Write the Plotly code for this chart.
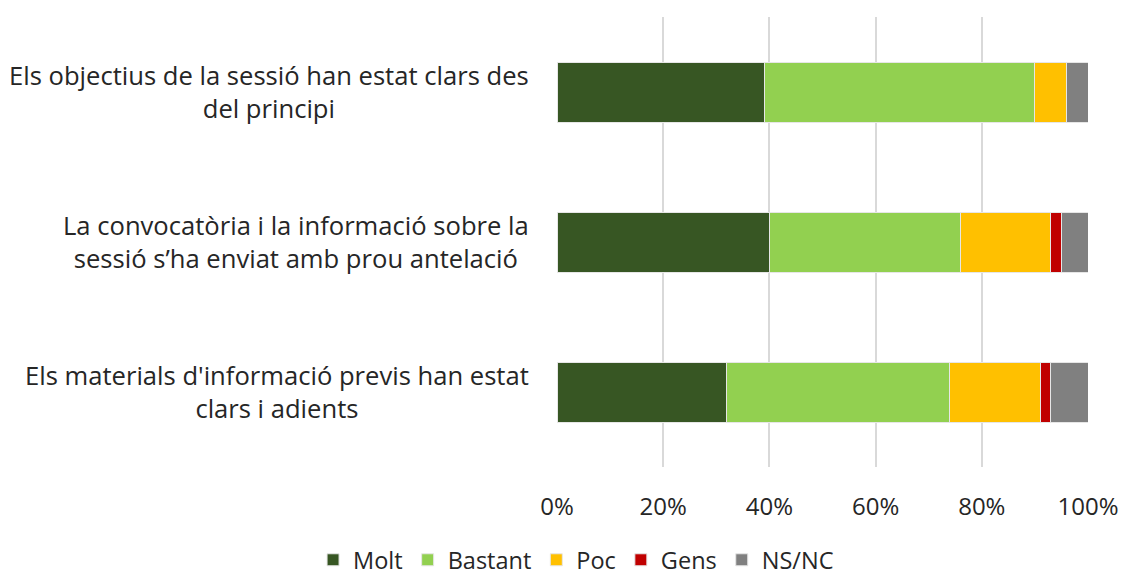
import plotly.graph_objects as go

categories = [
    "Els objectius de la sessió han estat clars des<br>del principi",
    "La convocatòria i la informació sobre la<br>sessió s’ha enviat amb prou antelació",
    "Els materials d'informació previs han estat<br>clars i adients",
]
series_names = ["Molt", "Bastant", "Poc", "Gens", "NS/NC"]
molt = [39, 40, 32]
bastant = [51, 36, 42]
poc = [6, 17, 17]
gens = [0, 2, 2]
nsnc = [4, 5, 7]
colors = ["#375623", "#92D050", "#FFC000", "#C00000", "#808080"]
tick_vals = [0, 20, 40, 60, 80, 100]
tick_text = ["0%", "20%", "40%", "60%", "80%", "100%"]

font_family = "'Open Sans', sans-serif"

fig = go.Figure()
for name, vals, col in zip(series_names, [molt, bastant, poc, gens, nsnc], colors):
    fig.add_trace(go.Bar(
        y=categories, x=vals, name=name, orientation="h",
        marker=dict(color=col, line=dict(color="#E6E6E6", width=1)),
    ))

for c in categories:
    fig.add_annotation(
        x=0, xref="paper", xanchor="right", xshift=-26,
        y=c, yref="y", yanchor="middle",
        text=c, showarrow=False, align="center",
        font=dict(family=font_family, size=25.6, color="#262626"),
    )

fig.update_layout(
    barmode="stack",
    bargap=0.6,
    width=1124, height=582,
    margin=dict(l=557, r=36, t=17, b=115),
    plot_bgcolor="white", paper_bgcolor="white",
    font=dict(family=font_family, size=24, color="#262626"),
    legend=dict(orientation="h", xref="container", yref="container",
                x=0.5125, xanchor="center", y=-0.008, yanchor="bottom",
                font=dict(size=23.5), traceorder="normal", itemwidth=30,
                bgcolor="rgba(0,0,0,0)"),
    xaxis=dict(range=[0, 100], tickvals=tick_vals, ticktext=tick_text,
               showgrid=True, gridcolor="#D9D9D9", gridwidth=2,
               zeroline=False, showline=False, ticks="outside", ticklen=18,
               tickcolor="rgba(0,0,0,0)", ticklabeloverflow="allow",
               automargin=False),
    yaxis=dict(categoryorder="array", categoryarray=categories, autorange="reversed",
               showticklabels=False, showgrid=False, zeroline=False),
)

fig.write_html("out.html", config={"displayModeBar": False},
               post_script="document.body.style.margin='0';")
